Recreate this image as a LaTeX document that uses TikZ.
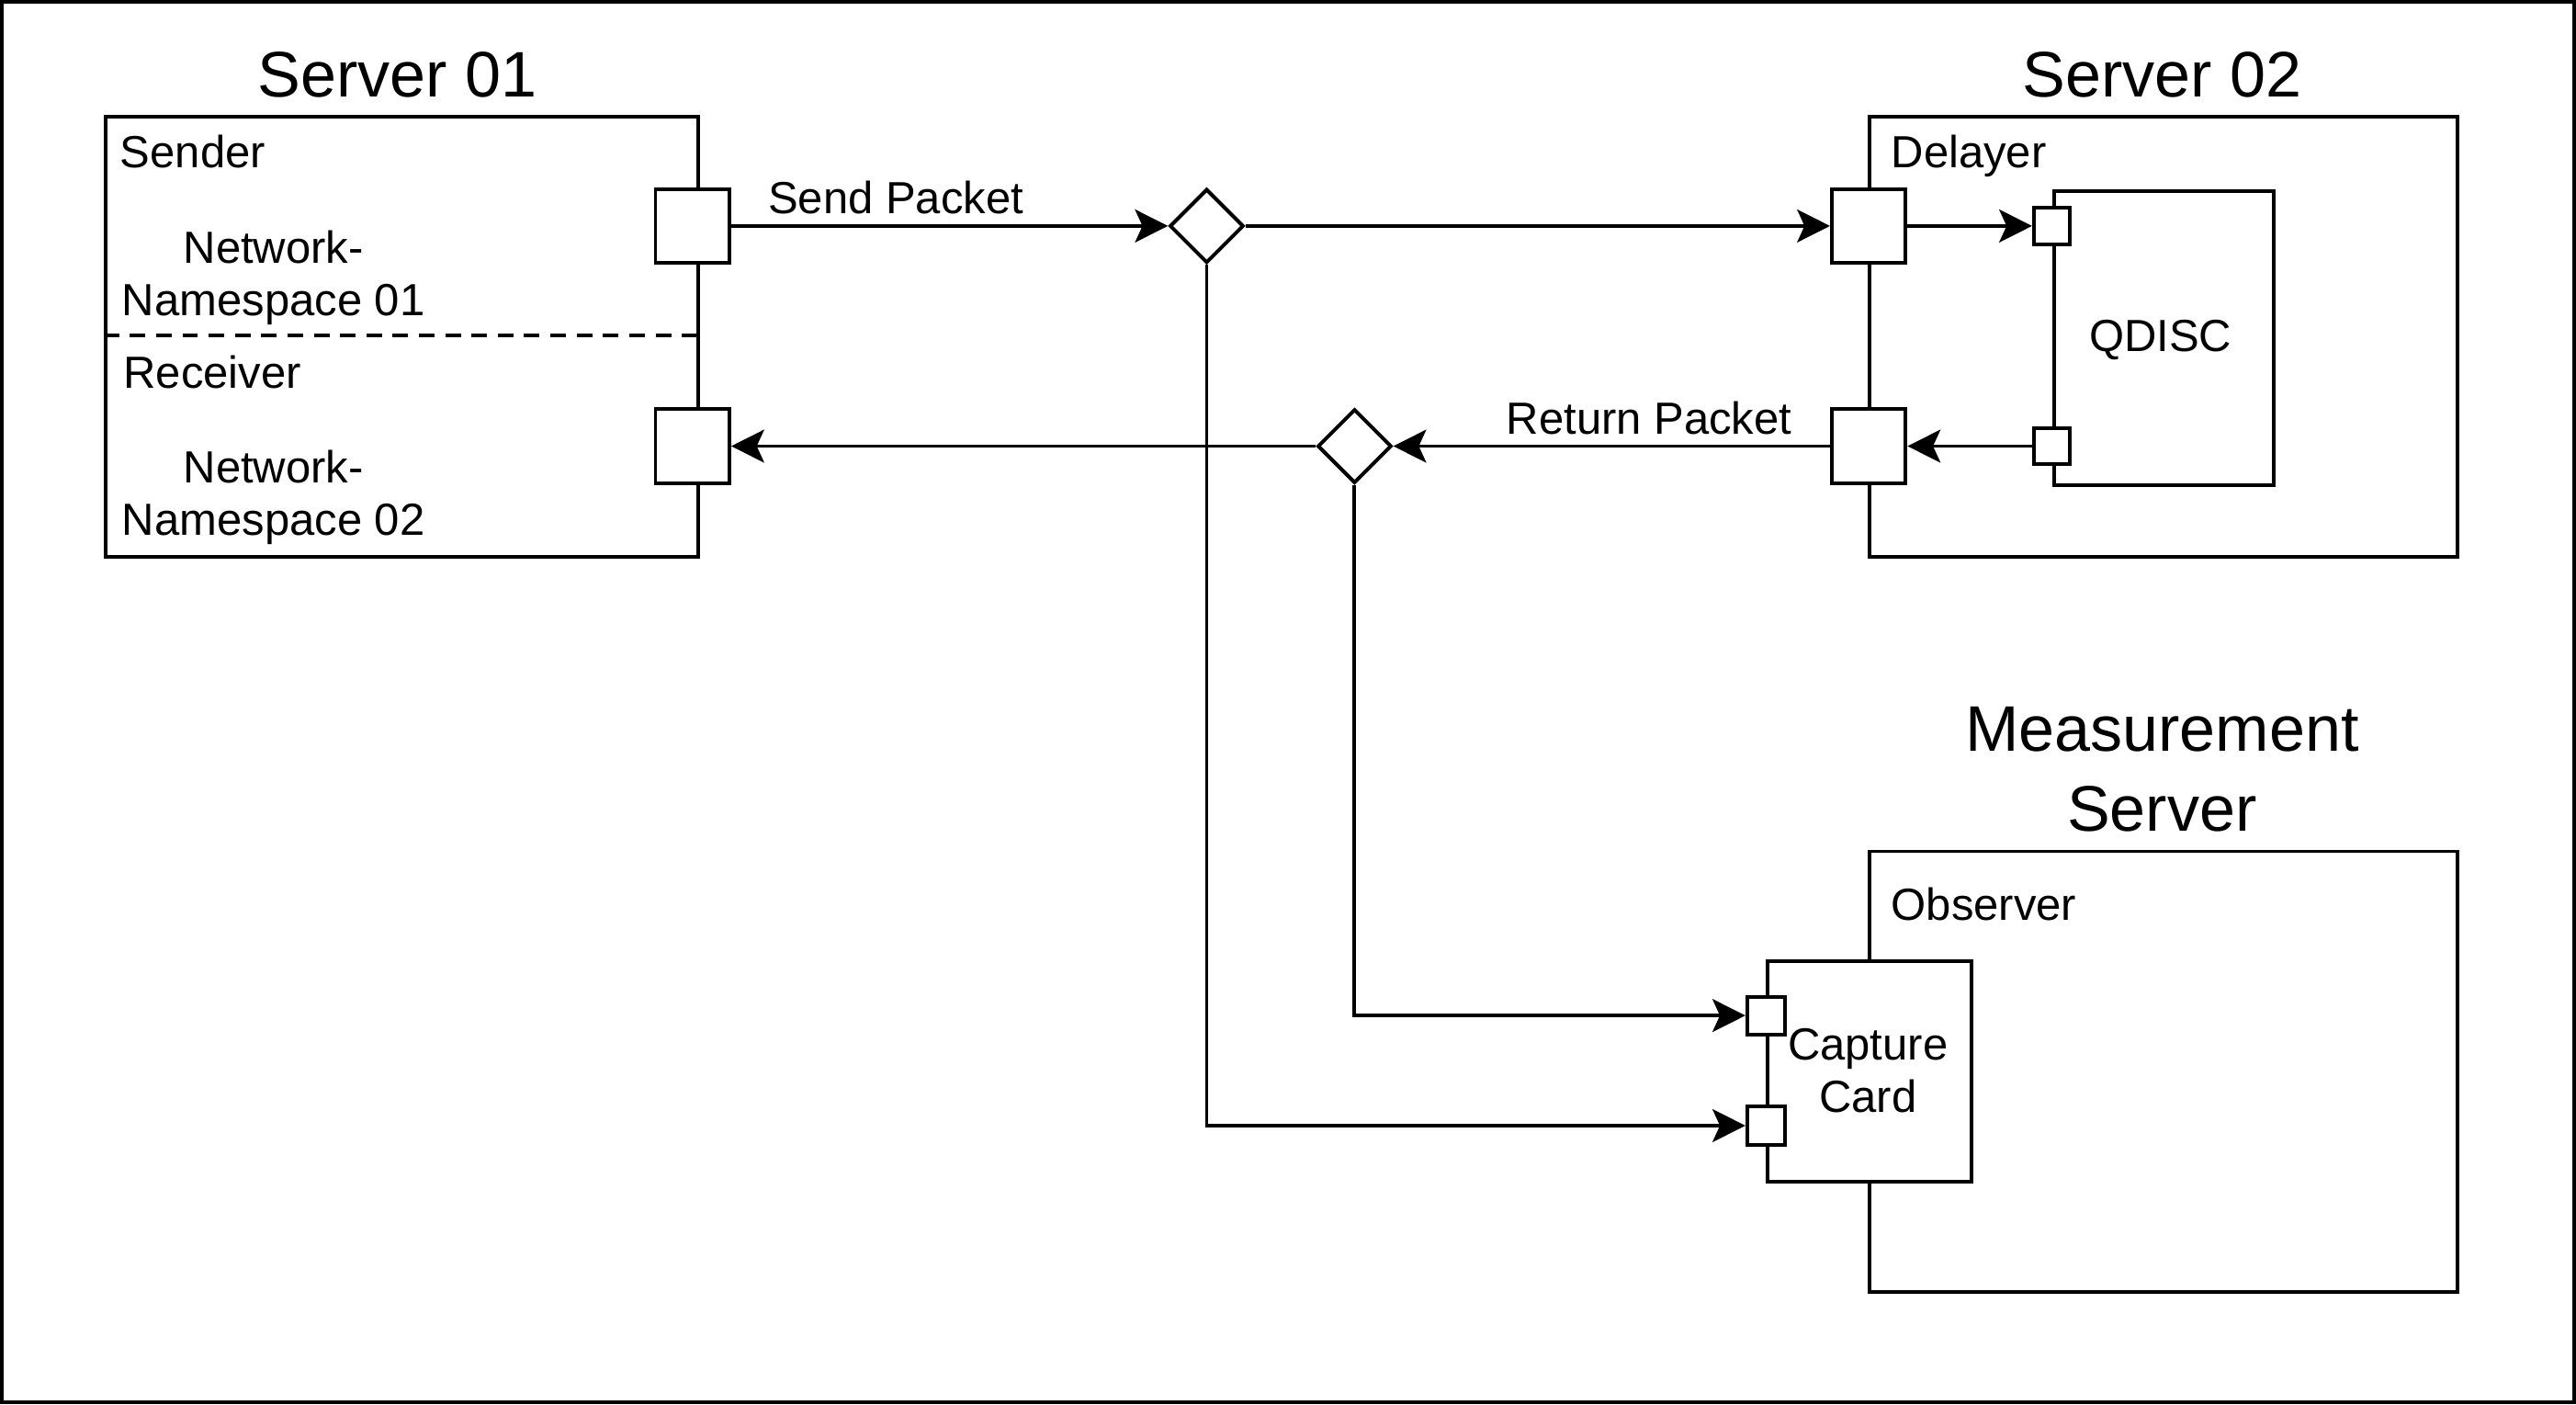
\documentclass[tikz,border=0pt]{standalone}
\usepackage{fontspec}
\setmainfont{Liberation Sans}
\usetikzlibrary{shapes.geometric,arrows.meta}
\begin{document}
\begin{tikzpicture}[x=1pt,y=-1pt,
  lw/.style={line width=2.2pt},
  box/.style={draw,lw,fill=white,inner sep=0pt,anchor=north west},
  port/.style={draw,lw,fill=white,inner sep=0pt,minimum width=45pt,minimum height=45pt},
  sport/.style={draw,lw,fill=white,inner sep=0pt,minimum width=22pt,minimum height=22pt},
  junction/.style={draw,lw,fill=white,diamond,inner sep=0pt,minimum width=45pt,minimum height=45pt},
  arr/.style={lw,-{Stealth[length=20pt,width=20pt,inset=4.5pt]}},
  small/.style={font=\fontsize{27.4pt}{32pt}\selectfont,inner sep=0pt},
  big/.style={font=\fontsize{39.2pt}{49pt}\selectfont,inner sep=0pt},
]
\useasboundingbox (0,0) rectangle (1568,854.5);
\draw[lw] (1.1,1.1) rectangle (1566.9,853.4);

% Server 01
\node[big,anchor=base] (t1) at (242,59) {Server 01};
\node[box,minimum width=361pt,minimum height=268pt] (s1) at (63,70) {};
\draw[lw,dash pattern=on 9.5pt off 6.5pt] (s1.west |- 0,204) -- (s1.east |- 0,204);
\node[small,anchor=base west] (lsend) at (73,102) {Sender};
\node[small,anchor=base west] (lrecv) at (75,236) {Receiver};
\node[small,anchor=base,align=center] (ns1) at (166.5,192) {Network-\\Namespace 01};
\node[small,anchor=base,align=center] (ns2) at (166.5,326) {Network-\\Namespace 02};
\node[port] (sendp) at (421.5,137.5) {};
\node[port] (recvp) at (421.5,271.5) {};

% Server 02
\node[big,anchor=base] (t2) at (1316,59) {Server 02};
\node[box,minimum width=358pt,minimum height=268pt] (s2) at (1137,70) {};
\node[small,anchor=base west] (ldel) at (1151,102) {Delayer};
\node[box,minimum width=134pt,minimum height=179pt] (qd) at (1249,115) {};
\node[small,anchor=base] (lqd) at (1315,214) {QDISC};
\node[port] (dp1) at (1137.5,137.5) {};
\node[port] (dp2) at (1137.5,271.5) {};
\node[sport] (qp1) at (1249,137.5) {};
\node[sport] (qp2) at (1249,271.5) {};

% Measurement server
\node[big,anchor=base,align=center] (t3) at (1316,506) {Measurement\\Server};
\node[box,minimum width=358pt,minimum height=268pt] (s3) at (1137,517) {};
\node[small,anchor=base west] (lobs) at (1151,560) {Observer};
\node[box,minimum width=124pt,minimum height=134pt] (card) at (1075,584) {};
\node[small,anchor=base,align=center] (lcard) at (1137,677) {Capture\\Card};
\node[sport,minimum width=23pt,minimum height=23pt] (cp1) at (1075,618) {};
\node[sport,minimum width=23pt,minimum height=23pt] (cp2) at (1075,685) {};

% junctions
\node[junction] (d1) at (734.5,137.5) {};
\node[junction] (d2) at (824.5,271.5) {};

% connectors
\draw[arr] (sendp.east) -- node[small,above=6pt,pos=0.377] (lsendpk) {Send Packet} (d1.west);
\draw[arr] (d1.east) -- (dp1.west);
\draw[arr] (dp1.east) -- (qp1.west);
\draw[arr] (qp2.west) -- (dp2.east);
\draw[arr] (dp2.west) -- node[small,above=6pt,pos=0.414] (lret) {Return Packet} (d2.east);
\draw[arr] (d2.west) -- (recvp.east);
\draw[arr] (d1.south) |- (cp2.west);
\draw[arr] (d2.south) |- (cp1.west);
\end{tikzpicture}
\end{document}
